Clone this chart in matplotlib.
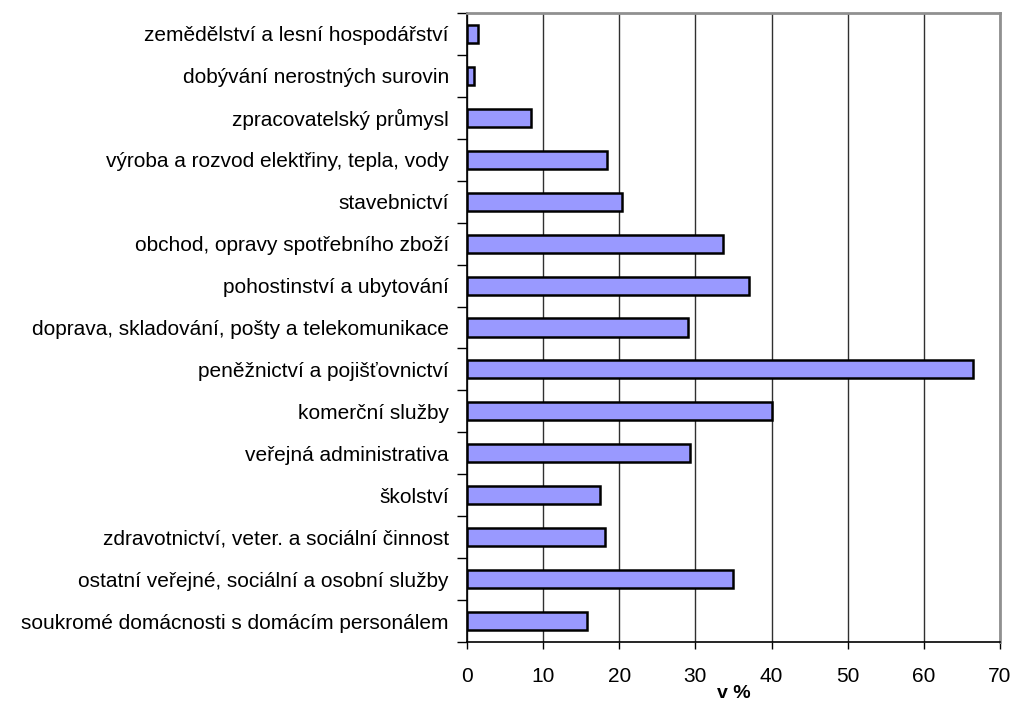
import matplotlib
matplotlib.use("Agg")
import matplotlib.pyplot as plt
import numpy as np

plt.rcParams['font.family'] = ['Liberation Sans', 'DejaVu Sans']

categories = [
    "zemědělství a lesní hospodářství",
    "dobývání nerostných surovin",
    "zpracovatelský průmysl",
    "výroba a rozvod elektřiny, tepla, vody",
    "stavebnictví",
    "obchod, opravy spotřebního zboží",
    "pohostinství a ubytování",
    "doprava, skladování, pošty a telekomunikace",
    "peněžnictví a pojišťovnictví",
    "komerční služby",
    "veřejná administrativa",
    "školství",
    "zdravotnictví, veter. a sociální činnost",
    "ostatní veřejné, sociální a osobní služby",
    "soukromé domácnosti s domácím personálem",
]
values = [1.5, 0.9, 8.4, 18.4, 20.4, 33.6, 37.1, 29.0, 66.5, 40.0, 29.3, 17.5, 18.1, 34.9, 15.8]
xticks = [0, 10, 20, 30, 40, 50, 60, 70]
xlabel = "v %"

fig = plt.figure(figsize=(10.14, 7.04), dpi=100)
ax = fig.add_axes([467/1014, 1 - 642/704, (1000 - 467)/1014, (642 - 13)/704])

n = len(categories)
y = np.arange(n)
ax.barh(y, values, height=0.43, color='#9999FF', edgecolor='black', linewidth=1.8, zorder=3)
ax.set_ylim(n - 0.5, -0.5)
ax.set_xlim(0, 70)
ax.set_xticks(xticks)
ax.set_xticklabels([str(t) for t in xticks], fontsize=15)
ax.xaxis.grid(True, color='#303030', linewidth=1.0, zorder=0)
ax.set_axisbelow(True)

# category labels
ax.set_yticks(y)
ax.set_yticklabels(categories, fontsize=15)
ax.tick_params(axis='y', length=0, pad=13)
ax.set_yticks(np.arange(-0.5, n, 1.0), minor=True)
ax.tick_params(axis='y', which='minor', length=7, width=1, direction='out')
ax.tick_params(axis='x', length=5, width=1, direction='out', pad=13)

for s in ['left', 'bottom']:
    ax.spines[s].set_color('black')
    ax.spines[s].set_linewidth(1.2)
for s in ['top', 'right']:
    ax.spines[s].set_color('#909090')
    ax.spines[s].set_linewidth(2)

ax.set_xlabel(xlabel, fontsize=14, fontweight='bold', labelpad=-1)

fig.savefig("out.png", dpi=100)
